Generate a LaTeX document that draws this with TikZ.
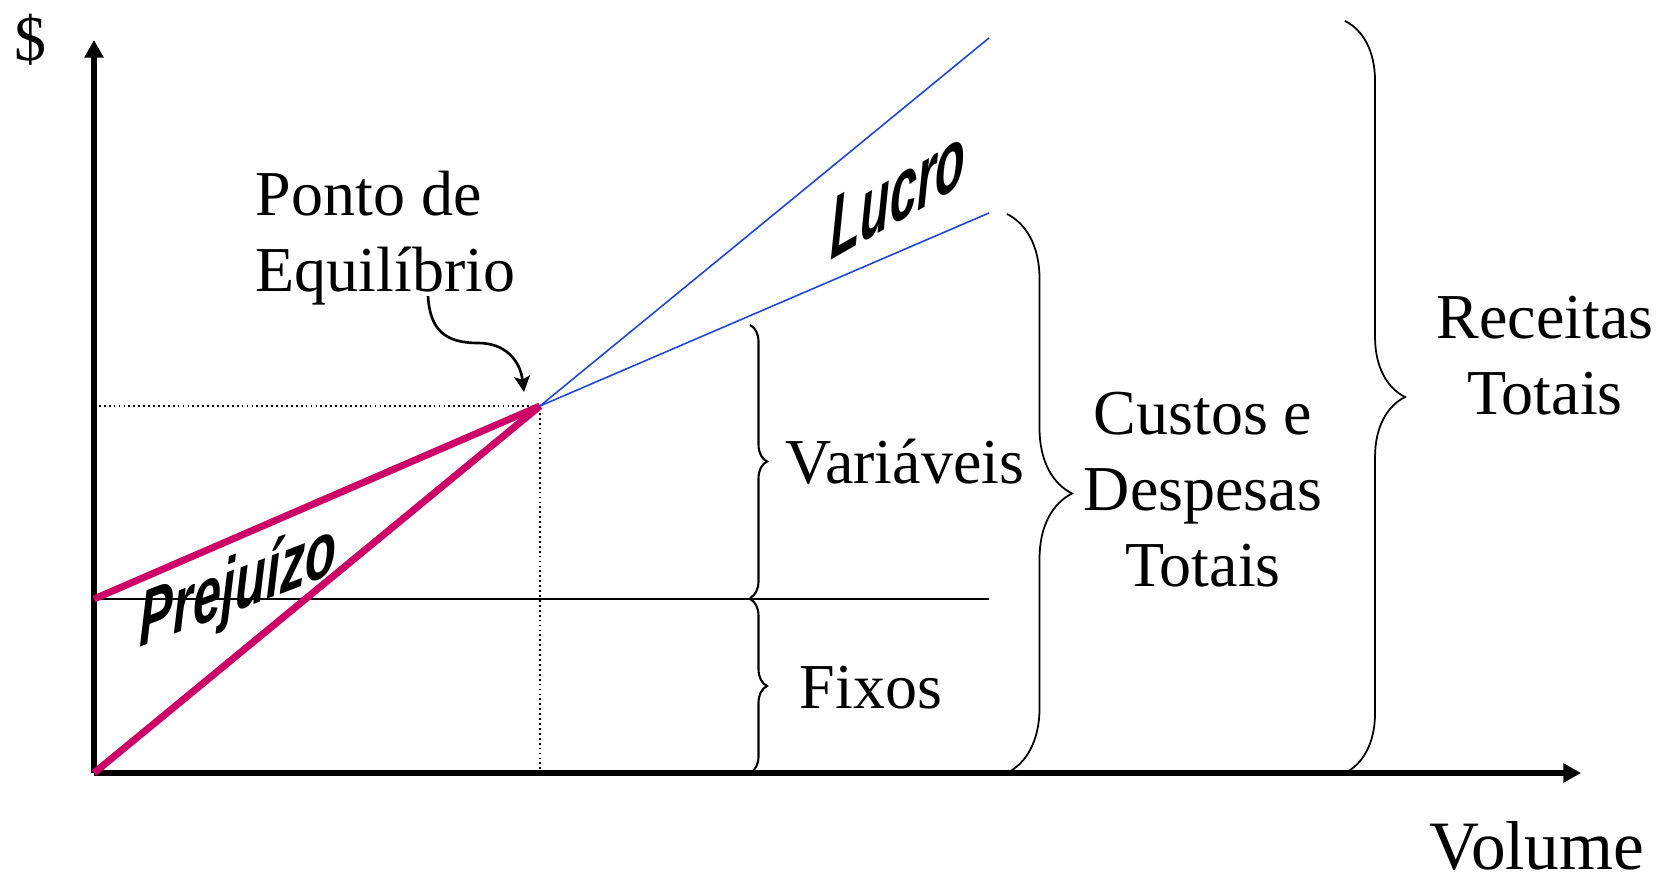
\documentclass[tikz,border=0pt]{standalone}
\usepackage{fontspec}
\setmainfont{Liberation Serif}
\newfontfamily\artfont{Liberation Sans}
\usetikzlibrary{arrows.meta,decorations.pathreplacing}

\definecolor{prejuizo}{HTML}{CC0066}
\definecolor{lucro}{HTML}{1F45D6}

\begin{document}
\begin{tikzpicture}[x=0.01cm, y=-0.01cm,
	eixo/.style={line width=1.7pt, -{Triangle[length=5pt,width=5.2pt]}},
	reta/.style={line width=2pt, prejuizo},
	fina/.style={line width=0.45pt, lucro},
	chave/.style={decorate, line width=0.6pt, decoration={brace, amplitude=#1}},
	rotulo/.style={font=\fontsize{18.2pt}{21.6pt}\selectfont, inner sep=0pt},
	inclinado/.style={font=\artfont\bfseries\itshape\fontsize{#1}{16pt}\selectfont, inner sep=0pt, transform shape}]

	\useasboundingbox (0,0) rectangle (1677,883);

	\coordinate (O) at (94,773);
	\coordinate (PE) at (540,406);
	\coordinate (CF) at (94,599);

	% eixos
	\draw [eixo] (O) -- (94,40);
	\draw [eixo] (O) -- (1581,773);

	% linhas de referencia
	\draw [line width=0.45pt, dash pattern=on 0.5pt off 0.9pt] (94,406) -- (PE) -- (540,773);
	\draw [line width=0.4pt] (CF) -- (989,599);

	% receitas e custos
	\draw [reta] (O) -- (PE);
	\draw [reta] (CF) -- (PE);
	\draw [fina] (PE) -- (989,38);
	\draw [fina] (PE) -- (989,213);

	% chaves
	\draw [chave=0.17cm] (750,325) -- (750,598);
	\draw [chave=0.17cm] (750,599) -- (750,773);
	\draw [chave=0.65cm, line width=0.5pt] (1007,214) -- (1007,773);
	\draw [chave=0.6cm, line width=0.5pt] (1345,21) -- (1345,773);

	% textos
	\node [rotulo] (cifrao) at (31,40) {\$};
	\node [rotulo, anchor=base] (volume) at (1537,869) {\fontsize{19.7pt}{24pt}\selectfont Volume};
	\node [rotulo, anchor=west, align=left] (ponto) at (255,238) {Ponto de\\Equilíbrio};
	\node [rotulo, anchor=base] (variaveis) at (905,484) {Variáveis};
	\node [rotulo, anchor=base] (fixos) at (871,708) {Fixos};
	\node [rotulo, align=center] (custos) at (1203,490) {Custos e\\Despesas\\Totais};
	\node [rotulo, align=center] (receitas) at (1545,356) {Receitas\\Totais};

	\node [inclinado=13.8pt, cm={1,0.57,0,1.8,(0,0)}, anchor=base west] (lucrotxt) at (830,261) {Lucro};
	\node [inclinado=14.4pt, cm={1,0.38,0,1.55,(0,0)}, anchor=base west] (prejuizotxt) at (139,648) {Prejuízo};

	\coordinate (inicio) at (428,296);
	\draw [line width=0.75pt, -{Stealth[length=4.5pt,width=4.5pt,inset=1pt]}] (inicio) .. controls (430,330) and (445,343) .. (478,343) .. controls (505,343) and (520,360) .. (524,392);
\end{tikzpicture}
\end{document}
